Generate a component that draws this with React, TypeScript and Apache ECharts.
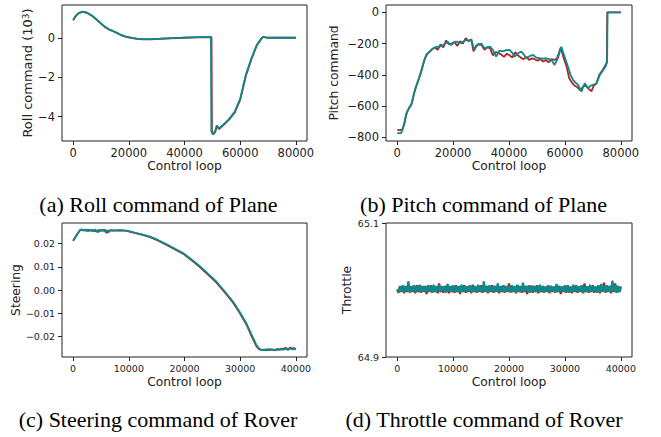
import React, { useEffect, useRef } from "react";
import * as echarts from "echarts";

// ---------- data ----------
const RED = "#b22222";
const TEAL = "#0a8a8a";

// (a) Roll command (x 10^3)
const rollTealX = [0, 1000, 2000, 3500, 5000, 7000, 9000, 11000, 13000, 15000, 17000, 19000, 21000, 23000, 25000, 28000, 31000, 35000, 40000, 45000, 49500, 49650, 50200, 50800, 51600, 52300, 54000, 56000, 58000, 60000, 62000, 64000, 66000, 67500, 68200, 70000, 75000, 80000];
const rollTeal = [0.9, 1.12, 1.26, 1.32, 1.27, 1.1, 0.85, 0.6, 0.42, 0.3, 0.16, 0.06, 0.0, -0.05, -0.07, -0.07, -0.05, -0.02, 0.01, 0.03, 0.04, -4.75, -4.9, -4.8, -4.44, -4.6, -4.4, -4.12, -3.75, -3.1, -1.9, -1.05, -0.35, -0.05, 0.05, 0.0, 0.0, 0.0];
const rollRedX = [0, 1000, 2000, 3500, 5000, 7000, 9000, 11000, 13000, 15000, 17000, 19000, 21000, 23000, 25000, 28000, 31000, 35000, 40000, 45000, 49700, 49850, 50400, 51000, 51700, 52400, 54000, 56000, 58000, 60000, 62000, 64000, 66000, 67600, 68300, 70000, 75000, 80000];
const rollRed = [0.89, 1.11, 1.25, 1.31, 1.26, 1.09, 0.84, 0.59, 0.41, 0.29, 0.15, 0.05, -0.01, -0.06, -0.08, -0.08, -0.06, -0.03, 0.0, 0.02, 0.03, -4.72, -4.88, -4.78, -4.46, -4.62, -4.42, -4.15, -3.8, -3.15, -1.95, -1.1, -0.38, -0.06, 0.04, 0.0, 0.0, 0.0];

// (b) Pitch command
const pitchTealX = [0, 1400, 2500, 3200, 3900, 5000, 5800, 6600, 7500, 8300, 9200, 10000, 11000, 12000, 13000, 14000, 15000, 16300, 17200, 18100, 19300, 20200, 21100, 22000, 22900, 23800, 24700, 25600, 26500, 27600, 28800, 30100, 31200, 32400, 33300, 34200, 35400, 36600, 37800, 39000, 40200, 41200, 42000, 43200, 44400, 45300, 46200, 47400, 48600, 49800, 51000, 52200, 53400, 54300, 55200, 56300, 57500, 58700, 59900, 61100, 62000, 62900, 63800, 64700, 65900, 67100, 67700, 68300, 69200, 70100, 71300, 72500, 73700, 74600, 75100, 75250, 77000, 80000];
const pitchTeal = [-774, -774, -720, -650, -625, -593, -540, -480, -440, -400, -340, -294, -260, -245, -230, -220, -222, -212, -200, -190, -209, -195, -188, -192, -198, -185, -177, -182, -173, -241, -205, -200, -230, -222, -220, -240, -284, -245, -250, -242, -241, -260, -284, -262, -252, -270, -294, -280, -273, -290, -294, -296, -294, -300, -305, -337, -294, -220, -284, -348, -400, -433, -450, -465, -508, -454, -470, -486, -470, -465, -454, -401, -369, -345, -316, 0, 0, 0];
const pitchRedX = [0, 1000, 1900, 2700, 3500, 4300, 5200, 6000, 6900, 7800, 8700, 9600, 10500, 11500, 12500, 13500, 14500, 15500, 16500, 17500, 18500, 19500, 20500, 21500, 22500, 23500, 24500, 25500, 26500, 27300, 28200, 29200, 30200, 31200, 32200, 33200, 34200, 35200, 36200, 37200, 38200, 39200, 40200, 41200, 42200, 43200, 44200, 45200, 46200, 47200, 48200, 49200, 50200, 51200, 52200, 53200, 54200, 55200, 56200, 57200, 58500, 59500, 60500, 61500, 62500, 63500, 64500, 65500, 66500, 67500, 68500, 69500, 70300, 71300, 72300, 73300, 74300, 75000, 75150, 77000, 80000];
const pitchRed = [-753, -755, -750, -700, -640, -610, -585, -520, -470, -420, -370, -310, -270, -255, -235, -225, -240, -205, -225, -180, -205, -200, -190, -215, -185, -200, -165, -185, -175, -250, -215, -205, -210, -240, -225, -230, -275, -255, -260, -270, -285, -265, -275, -290, -255, -275, -290, -300, -285, -305, -295, -300, -310, -300, -315, -305, -320, -300, -305, -295, -225, -290, -340, -420, -450, -470, -480, -500, -475, -470, -490, -505, -470, -455, -400, -375, -345, -320, 0, 0, 0];

// (c) Steering
const steerX = [0, 600, 1200, 1500, 1800, 2100, 2400, 2700, 3000, 3300, 3600, 3900, 4200, 4500, 4800, 5100, 5400, 5700, 6000, 6300, 6600, 6900, 7500, 8500, 9600, 11000, 12500, 13800, 15300, 16800, 18300, 19800, 21200, 22700, 24200, 25700, 27200, 28700, 29900, 31100, 32000, 32900, 33400, 33800, 34200, 34600, 35000, 35400, 35800, 36200, 36600, 37000, 37400, 37800, 38200, 38600, 39000, 39400, 39700, 40000];
const steerTeal = [0.0212, 0.0235, 0.0258, 0.0262, 0.0256, 0.0261, 0.0254, 0.0262, 0.0255, 0.026, 0.0253, 0.0261, 0.0256, 0.0249, 0.026, 0.0254, 0.0261, 0.0252, 0.0258, 0.0247, 0.0256, 0.0258, 0.0257, 0.0258, 0.0256, 0.0248, 0.0239, 0.023, 0.0215, 0.0197, 0.0178, 0.0159, 0.0133, 0.0104, 0.0071, 0.0037, -0.0005, -0.0049, -0.0093, -0.0142, -0.019, -0.0236, -0.0252, -0.0258, -0.0256, -0.026, -0.0254, -0.0259, -0.0255, -0.026, -0.0253, -0.0258, -0.0251, -0.0257, -0.0252, -0.0258, -0.025, -0.0256, -0.0252, -0.0257];
const steerRed = [0.0213, 0.0236, 0.0257, 0.026, 0.0258, 0.0257, 0.026, 0.0255, 0.0259, 0.0256, 0.0259, 0.0255, 0.0252, 0.0258, 0.0255, 0.0259, 0.0256, 0.026, 0.0246, 0.0256, 0.0257, 0.0256, 0.0256, 0.0257, 0.0255, 0.0247, 0.0238, 0.0228, 0.0213, 0.0194, 0.0175, 0.0156, 0.013, 0.01, 0.0067, 0.0033, -0.0009, -0.0053, -0.0098, -0.0147, -0.0196, -0.0241, -0.0255, -0.0256, -0.0258, -0.0255, -0.0259, -0.0254, -0.0258, -0.0256, -0.0257, -0.0254, -0.0256, -0.0252, -0.0249, -0.0255, -0.0247, -0.0253, -0.0249, -0.0255];

// (d) Throttle, sampled every THROTTLE_STEP control loops
const THROTTLE_STEP = 250;
const throttleTeal = [
  65.001, 64.997, 65.006, 64.998, 65.007, 64.996, 65.005, 64.998, 65.013, 64.997,
  65.006, 64.998, 65.007, 64.997, 65.005, 64.999, 65.008, 64.996, 65.006, 64.998,
  65.005, 64.997, 65.007, 64.998, 65.006, 64.996, 65.008, 64.997, 65.005, 64.998,
  65.007, 64.997, 65.006, 64.999, 65.005, 64.996, 65.009, 64.998, 65.006, 64.997,
  65.007, 64.998, 65.005, 64.997, 65.006, 64.996, 65.008, 64.998, 65.005, 64.997,
  65.006, 64.998, 65.007, 64.996, 65.005, 64.998, 65.006, 64.997, 65.008, 64.998,
  65.005, 64.997, 65.013, 64.998, 65.006, 64.996, 65.007, 64.998, 65.005, 64.997,
  65.006, 64.998, 65.010, 64.997, 65.005, 64.998, 65.007, 64.996, 65.006, 64.998,
  65.005, 64.997, 65.007, 64.998, 65.006, 64.996, 65.008, 64.997, 65.005, 64.998,
  65.011, 64.997, 65.006, 64.998, 65.005, 64.996, 65.007, 64.998, 65.006, 64.997,
  65.005, 64.998, 65.008, 64.997, 65.006, 64.996, 65.005, 64.998, 65.007, 64.997,
  65.006, 64.998, 65.005, 64.996, 65.009, 64.997, 65.006, 64.998, 65.005, 64.997,
  65.007, 64.998, 65.006, 64.996, 65.005, 64.997, 65.008, 64.998, 65.006, 64.997,
  65.005, 64.998, 65.007, 64.996, 65.006, 64.997, 65.005, 64.998, 65.008, 64.997,
  65.006, 64.998, 65.005, 64.996, 65.007, 64.997, 65.009, 64.998, 65.006, 64.997,
  65.007, 64.998, 65.006, 64.997, 65.014, 64.998, 65.008, 64.996, 65.006, 64.997,
  65.005,
];
const throttleRed = [
  65.000, 64.996, 65.005, 64.997, 65.006, 64.995, 65.006, 64.997, 65.008, 64.996,
  65.005, 64.997, 65.006, 64.995, 65.007, 64.997, 65.005, 64.996, 65.006, 64.997,
  65.006, 64.994, 65.005, 64.997, 65.007, 64.996, 65.005, 64.997, 65.006, 64.995,
  65.010, 64.997, 65.005, 64.996, 65.006, 64.997, 65.007, 64.995, 65.005, 64.997,
  65.006, 64.996, 65.007, 64.997, 65.005, 64.994, 65.006, 64.997, 65.007, 64.996,
  65.005, 64.997, 65.006, 64.995, 65.008, 64.997, 65.005, 64.996, 65.006, 64.997,
  65.007, 64.996, 65.005, 64.997, 65.006, 64.995, 65.005, 64.997, 65.007, 64.996,
  65.006, 64.997, 65.005, 64.995, 65.006, 64.997, 65.007, 64.996, 65.005, 64.997,
  65.010, 64.996, 65.006, 64.997, 65.005, 64.995, 65.007, 64.997, 65.006, 64.996,
  65.005, 64.997, 65.006, 64.994, 65.007, 64.997, 65.005, 64.996, 65.006, 64.997,
  65.007, 64.995, 65.005, 64.997, 65.006, 64.996, 65.005, 64.997, 65.007, 64.995,
  65.006, 64.997, 65.005, 64.996, 65.007, 64.997, 65.006, 64.994, 65.005, 64.997,
  65.006, 64.996, 65.007, 64.997, 65.005, 64.995, 65.006, 64.997, 65.007, 64.996,
  65.005, 64.997, 65.006, 64.995, 65.010, 64.997, 65.005, 64.996, 65.006, 64.997,
  65.007, 64.996, 65.005, 64.997, 65.006, 64.995, 65.007, 64.997, 65.011, 64.996,
  65.005, 64.997, 65.006, 64.995, 65.007, 64.997, 65.010, 64.996, 65.006, 64.997,
  65.005,
];

// tick labels
const planeXTicks = [0, 20000, 40000, 60000, 80000];
const roverXTicks = [0, 10000, 20000, 30000, 40000];
const rollYTicks = [-4, -2, 0];
const pitchYTicks = [-800, -600, -400, -200, 0];
const steerYTicks = [-0.02, -0.01, 0, 0.01, 0.02];
const throttleYTicks = [64.9, 65.1];

const captions = [
  "(a) Roll command of Plane",
  "(b) Pitch command of Plane",
  "(c) Steering command of Rover",
  "(d) Throttle command of Rover",
];

// ---------- helpers ----------
const zip = (xs: number[], ys: number[]) => ys.map((y, i) => [xs[i], y]);
const minus = (s: string) => s.replace("-", "\u2212");
const FONT = "DejaVu Sans";
const INK = "#222";

function xAxisCfg(grid: number, min: number, max: number, ticks: number[], fs: number) {
  return {
    gridIndex: grid,
    type: "value",
    position: "bottom",
    min,
    max,
    axisLine: { show: false, onZero: false },
    splitLine: { show: false },
    axisTick: { show: true, inside: false, length: 4, lineStyle: { color: INK, width: 1 }, customValues: ticks },
    axisLabel: {
      customValues: ticks,
      fontSize: fs,
      fontFamily: FONT,
      color: INK,
      margin: 6,
      formatter: (v: number) => minus(String(v)),
    },
    name: "Control loop",
    nameLocation: "middle",
    nameGap: 19,
    nameTextStyle: { fontSize: 12.3, fontFamily: FONT, color: INK },
  };
}

function yAxisCfg(grid: number, min: number, max: number, ticks: number[], fs: number, name: string, gap: number, fmt: (v: number) => string, nameSize = 12.3, rich?: any) {
  return {
    gridIndex: grid,
    type: "value",
    position: "left",
    min,
    max,
    axisLine: { show: false, onZero: false },
    splitLine: { show: false },
    axisTick: { show: true, inside: false, length: 4, lineStyle: { color: INK, width: 1 }, customValues: ticks },
    axisLabel: { customValues: ticks, fontSize: fs, fontFamily: FONT, color: INK, margin: 7, formatter: fmt },
    name,
    nameLocation: "middle",
    nameRotate: 90,
    nameGap: gap,
    nameTextStyle: { fontSize: nameSize, fontFamily: FONT, color: INK, rich },
  };
}

function lineSeries(xi: number, data: number[][], color: string, width = 1.8) {
  return {
    type: "line",
    xAxisIndex: xi,
    yAxisIndex: xi,
    data,
    symbol: "none",
    showSymbol: false,
    lineStyle: { color, width },
    itemStyle: { color },
    emphasis: { disabled: true },
  };
}

export default function App() {
  const ref = useRef<HTMLDivElement>(null);
  useEffect(() => {
    if (!ref.current) return;
    const chart = echarts.init(ref.current, null, { renderer: "svg" });
    const throttleX = throttleTeal.map((_, i) => i * THROTTLE_STEP);
    const gridBase = { show: true, borderColor: INK, borderWidth: 1, backgroundColor: "transparent", outerBoundsMode: "none" };
    const option: any = {
      animation: false,
      backgroundColor: "#fff",
      grid: [
        { ...gridBase, left: 62, top: 5, width: 245, height: 136 },
        { ...gridBase, left: 386, top: 5, width: 246, height: 136 },
        { ...gridBase, left: 62, top: 223, width: 245, height: 134 },
        { ...gridBase, left: 386, top: 223, width: 246, height: 134 },
      ],
      xAxis: [
        xAxisCfg(0, -4000, 84000, planeXTicks, 11.5),
        xAxisCfg(1, -4000, 84000, planeXTicks, 11.5),
        xAxisCfg(2, -2000, 42000, roverXTicks, 9.5),
        xAxisCfg(3, -2000, 42000, roverXTicks, 9.5),
      ],
      yAxis: [
        yAxisCfg(0, -5.23, 1.66, rollYTicks, 11.5, "Roll command (10{sup|3})", 27, (v) => minus(String(v)), 13, {
          sup: { fontSize: 9, fontFamily: FONT, color: INK, verticalAlign: "top", lineHeight: 8 },
        }),
        yAxisCfg(1, -824, 47, pitchYTicks, 11.5, "Pitch command", 46, (v) => minus(String(v))),
        yAxisCfg(2, -0.0288, 0.0289, steerYTicks, 9.5, "Steering", 40, (v) => minus(Math.abs(v) < 1e-9 ? "0.00" : v.toFixed(2))),
        yAxisCfg(3, 64.9, 65.1, throttleYTicks, 9.5, "Throttle", 33, (v) => v.toFixed(1)),
      ],
      series: [
        lineSeries(0, zip(rollRedX, rollRed), RED),
        lineSeries(0, zip(rollTealX, rollTeal), TEAL),
        lineSeries(1, zip(pitchRedX, pitchRed), RED),
        lineSeries(1, zip(pitchTealX, pitchTeal), TEAL),
        lineSeries(2, zip(steerX, steerRed), RED),
        lineSeries(2, zip(steerX, steerTeal), TEAL),
        lineSeries(3, zip(throttleX, throttleRed), RED, 2.2),
        lineSeries(3, zip(throttleX, throttleTeal), TEAL, 2.2),
      ],
      graphic: [
        [158.5, 204.5, captions[0]],
        [483.5, 204.5, captions[1]],
        [158, 419.5, captions[2]],
        [484, 419.5, captions[3]],
      ].map(([x, y, t]) => ({
        type: "text",
        x: x as number,
        y: y as number,
        style: {
          text: t as string,
          font: '22px "Liberation Serif"',
          fill: "#000",
          textAlign: "center",
          textVerticalAlign: "middle",
        },
      })),
    };
    chart.setOption(option);
    return () => chart.dispose();
  }, []);
  return <div ref={ref} style={{ position: "fixed", left: 0, top: 0, width: 661, height: 437 }} />;
}
